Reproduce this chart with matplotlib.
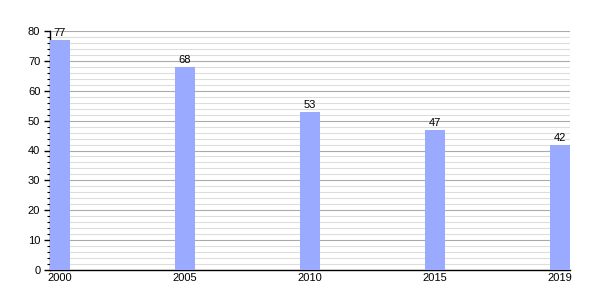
import numpy as np
import matplotlib.pyplot as plt
from matplotlib.ticker import MultipleLocator

years = ["2000", "2005", "2010", "2015", "2019"]
values = [77, 68, 53, 47, 42]

plt.rcParams['font.family'] = ['Liberation Sans', 'DejaVu Sans']

fig = plt.figure(figsize=(6, 3), dpi=100)
ax = fig.add_axes([50 / 600, 30 / 300, 520 / 600, 239 / 300])

x = np.arange(len(years))
bar_width = 0.16
bars = ax.bar(x, values, bar_width, color='#99aaff', zorder=3)

for xi, v in zip(x, values):
    ax.text(xi, v + 0.6, str(v), ha='center', va='bottom', fontsize=8, zorder=4)

ax.set_xlim(-bar_width / 2, len(years) - 1 + bar_width / 2)
ax.set_ylim(0, 80)
ax.set_xticks(x)
ax.set_xticklabels(years)
ax.yaxis.set_major_locator(MultipleLocator(10))
ax.yaxis.set_minor_locator(MultipleLocator(2))

ax.grid(which='major', axis='y', color='#aaaaaa', linewidth=0.8, zorder=0)
ax.grid(which='minor', axis='y', color='#dddddd', linewidth=0.8, zorder=0)

for side in ['top', 'right']:
    ax.spines[side].set_visible(False)
ax.spines['left'].set_linewidth(1)
ax.spines['bottom'].set_linewidth(1)

ax.tick_params(axis='y', which='major', length=4, width=1, labelsize=8, pad=3)
ax.tick_params(axis='y', which='minor', length=2, width=0.8)
ax.tick_params(axis='x', length=0, labelsize=8, pad=2)

fig.savefig('out.png', dpi=100)
